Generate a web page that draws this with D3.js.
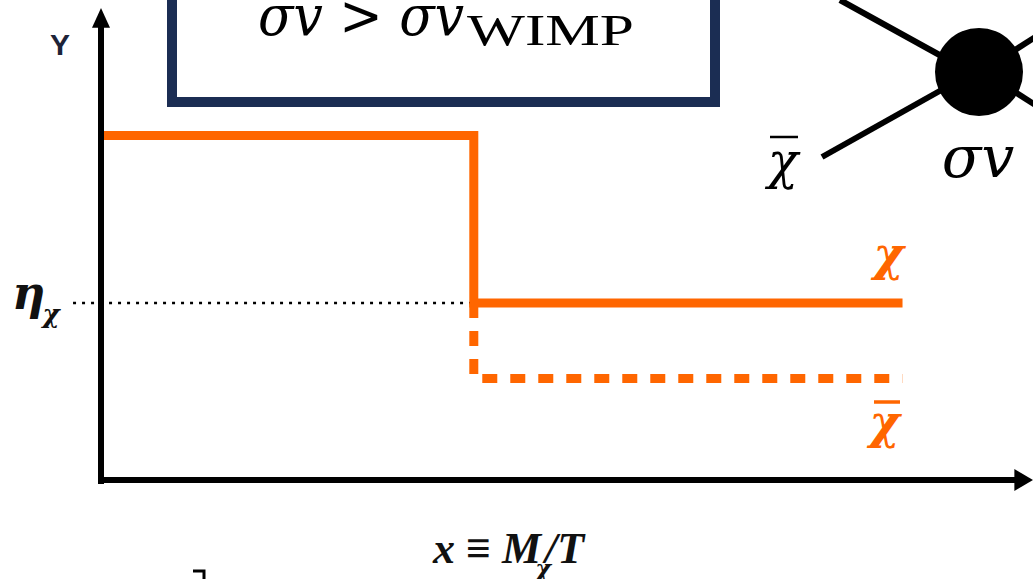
<!DOCTYPE html>
<html>
<head>
<meta charset="utf-8">
<script src="https://cdn.jsdelivr.net/npm/d3@7"></script>
<style>
  html, body { margin: 0; padding: 0; background: #fff; overflow: hidden; }
  svg { display: block; }
</style>
</head>
<body>
<svg id="chart" width="1033" height="579"></svg>
<script>
// Abundance steps: chi freezes out at x = 4.0, chi-bar is depleted further.
const chiX = [0, 4.0, 4.0, 8.6];
const chiY = [7.3, 7.3, 3.75, 3.75];
const chiBarX = [4.0, 4.0, 8.6];
const chiBarY = [3.75, 2.15, 2.15];
const etaLevel = 3.75;
const etaStart = -0.3;

const orange = "#ff6600";
const navy = "#1b2d53";
const serif = "'Liberation Serif', 'Times New Roman', serif";
const greek = "'DejaVu Serif', serif";

const svg = d3.select("#chart");

const x = d3.scaleLinear().domain([0, 10]).range([101, 1033]);
const y = d3.scaleLinear().domain([0, 10]).range([480, 8]);

const line = d3.line().x(d => x(d[0])).y(d => y(d[1])).curve(d3.curveLinear);

// equilibrium level (dotted)
svg.append("line")
  .attr("x1", x(etaStart)).attr("x2", x(chiX[1]))
  .attr("y1", y(etaLevel)).attr("y2", y(etaLevel))
  .attr("stroke", "#000").attr("stroke-width", 2.5)
  .attr("stroke-dasharray", "3,6");

// chi-bar (dashed)
svg.append("path")
  .attr("d", line(d3.zip(chiBarX, chiBarY)))
  .attr("fill", "none").attr("stroke", orange)
  .attr("stroke-width", 9).attr("stroke-linejoin", "miter")
  .attr("stroke-dasharray", "15,13");

// chi (solid)
svg.append("path")
  .attr("d", line(d3.zip(chiX, chiY)))
  .attr("fill", "none").attr("stroke", orange)
  .attr("stroke-width", 9).attr("stroke-linejoin", "miter");

// axes with arrow heads
const x0 = x(0), y0 = y(0);
svg.append("line").attr("x1", x0).attr("x2", x0).attr("y1", y0 + 4).attr("y2", y(9.6))
  .attr("stroke", "#000").attr("stroke-width", 6);
svg.append("path")
  .attr("d", `M${x0},${y(10)} L${x0 + 9},${y(9.58)} L${x0 - 9},${y(9.58)} Z`)
  .attr("fill", "#000");
svg.append("line").attr("x1", x0 - 3).attr("x2", x(9.82)).attr("y1", y0).attr("y2", y0)
  .attr("stroke", "#000").attr("stroke-width", 6);
svg.append("path")
  .attr("d", `M${x(10)},${y0} L${x(9.8)},${y0 - 11} L${x(9.8)},${y0 + 11} Z`)
  .attr("fill", "#000");

// axis labels
svg.append("text").attr("x", 60).attr("y", 55)
  .attr("text-anchor", "middle")
  .attr("font-family", "'Liberation Sans', Arial, sans-serif")
  .attr("font-weight", "bold").attr("font-size", 30)
  .attr("fill", "#1d2338").text("Y");

const eta = svg.append("text").attr("x", 12).attr("y", y(etaLevel) + 6)
  .attr("font-family", greek)
  .attr("font-weight", "bold").attr("font-style", "italic")
  .attr("font-size", 46).attr("fill", "#111");
eta.append("tspan").text("η");
eta.append("tspan").attr("font-size", 26).attr("dy", 14).attr("dx", -3).text("χ");

const xl = svg.append("text").attr("x", 433).attr("y", 563)
  .attr("font-family", serif)
  .attr("font-weight", "bold").attr("font-size", 44).attr("fill", "#111");
xl.append("tspan").attr("font-style", "italic").text("x");
xl.append("tspan").text(" ≡ ");
xl.append("tspan").attr("font-style", "italic").text("M");
xl.append("tspan").attr("font-family", greek).attr("font-style", "italic")
  .attr("font-size", 24).attr("dy", 14).attr("dx", -6).text("χ");
xl.append("tspan").attr("font-style", "italic").attr("dy", -14).attr("dx", -6).text("/T");

// series labels
svg.append("text").attr("x", x(chiX[3]) - 14).attr("y", 270)
  .attr("text-anchor", "middle")
  .attr("font-family", greek)
  .attr("font-weight", "bold").attr("font-style", "italic").attr("font-size", 46)
  .attr("fill", orange).text("χ");
svg.append("text").attr("x", x(chiBarX[2]) - 18).attr("y", 438)
  .attr("text-anchor", "middle")
  .attr("font-family", greek)
  .attr("font-weight", "bold").attr("font-style", "italic").attr("font-size", 46)
  .attr("fill", orange).text("χ");
svg.append("line").attr("x1", 874).attr("x2", 900).attr("y1", 402).attr("y2", 402)
  .attr("stroke", orange).attr("stroke-width", 3.5);

// condition box
svg.append("rect").attr("x", 172).attr("y", -30).attr("width", 543).attr("height", 132)
  .attr("fill", "#fff").attr("stroke", navy).attr("stroke-width", 10);
svg.append("text").attr("x", 258).attr("y", 35)
  .attr("font-family", greek)
  .attr("font-style", "italic").attr("font-size", 56)
  .attr("textLength", 206).attr("lengthAdjust", "spacingAndGlyphs")
  .attr("fill", "#000").text("σv > σv");
svg.append("text").attr("x", 467).attr("y", 45)
  .attr("font-family", serif)
  .attr("font-size", 44)
  .attr("textLength", 167).attr("lengthAdjust", "spacingAndGlyphs")
  .attr("fill", "#000").text("WIMP");

// annihilation vertex
const vtx = svg.append("g");
[[840, 0, 945, 58], [822, 157, 945, 88], [1012, 52, 1040, 34], [1012, 90, 1040, 108]]
  .forEach(s => vtx.append("line")
    .attr("x1", s[0]).attr("y1", s[1]).attr("x2", s[2]).attr("y2", s[3])
    .attr("stroke", "#000").attr("stroke-width", 6));
vtx.append("circle").attr("cx", 979).attr("cy", 72).attr("r", 44).attr("fill", "#000");
vtx.append("text").attr("x", 783).attr("y", 178)
  .attr("text-anchor", "middle")
  .attr("font-family", greek)
  .attr("font-style", "italic").attr("font-size", 50).text("χ");
vtx.append("line").attr("x1", 770).attr("x2", 798).attr("y1", 137).attr("y2", 137)
  .attr("stroke", "#000").attr("stroke-width", 2.5);
vtx.append("text").attr("x", 978).attr("y", 177)
  .attr("text-anchor", "middle")
  .attr("font-family", greek)
  .attr("font-style", "italic").attr("font-size", 58).text("σv");

// small corner mark at the bottom
svg.append("path").attr("d", "M193,571 H204 V579")
  .attr("fill", "none").attr("stroke", "#000").attr("stroke-width", 3);
</script>
</body>
</html>
